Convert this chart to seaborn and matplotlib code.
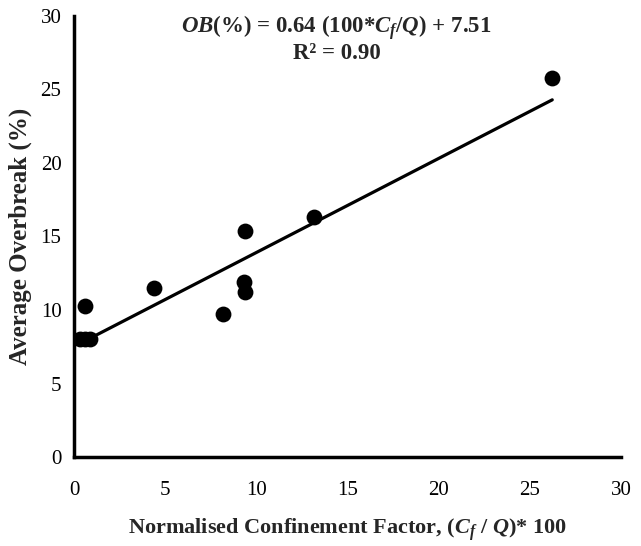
import matplotlib
matplotlib.use("Agg")
import matplotlib.pyplot as plt
import seaborn as sns
import numpy as np
import pandas as pd

# Normalised confinement factor (Cf/Q)*100 and average overbreak (%)
confinement = [0.34, 0.63, 0.90, 0.58, 4.38, 8.15, 9.30, 9.39, 9.39, 13.14, 26.23]
overbreak = [8.05, 8.05, 8.05, 10.25, 11.5, 9.72, 11.9, 11.2, 15.35, 16.32, 25.8]

# Linear trend coefficients
slope = 0.64
intercept = 7.51
r_squared = 0.90

x_ticks = [0, 5, 10, 15, 20, 25, 30]
y_ticks = [0, 5, 10, 15, 20, 25, 30]

sns.set_style("white")
plt.rcParams["font.family"] = ["Liberation Serif", "DejaVu Serif"]
plt.rcParams["mathtext.fontset"] = "custom"
plt.rcParams["mathtext.rm"] = "Liberation Serif:bold"
plt.rcParams["mathtext.it"] = "Liberation Serif:italic:bold"
plt.rcParams["mathtext.bf"] = "Liberation Serif:bold"

df = pd.DataFrame({"x": confinement, "y": overbreak})

fig = plt.figure(figsize=(6.41, 5.46), dpi=100)
ax = fig.add_axes([0.1154, 0.163, 0.8534, 0.8077])

sns.scatterplot(data=df, x="x", y="y", ax=ax, color="black", s=130,
                edgecolor="black", linewidth=0, zorder=3)

xs = np.array([min(confinement), max(confinement)])
ax.plot(xs, slope * xs + intercept, color="black", lw=2.3, zorder=2)

ax.set_xlim(0, 30)
ax.set_ylim(0, 30)
ax.set_xticks(x_ticks)
ax.set_yticks(y_ticks)
ax.tick_params(axis="both", direction="out", length=5, width=2.2,
               labelsize=15, colors="black", pad=4)
ax.tick_params(axis="x", pad=12)
for side in ["top", "right"]:
    ax.spines[side].set_visible(False)
for side in ["left", "bottom"]:
    ax.spines[side].set_linewidth(2.5)
    ax.spines[side].set_color("black")

ax.set_xlabel(r"Normalised Confinement Factor, ($C_f$ / $Q$)* 100",
              fontsize=16, fontweight="bold", labelpad=12)
ax.set_ylabel("Average Overbreak (%)", fontsize=18, fontweight="bold", labelpad=6)

ax.text(14.4, 29.2,
        r"$OB$(%) = " + f"{slope:.2f}" + r" (100*$C_f$/$Q$) + " + f"{intercept:.2f}",
        ha="center", va="center", fontsize=16.5, fontweight="bold")
ax.text(14.4, 27.45, f"R² = {r_squared:.2f}", ha="center", va="center",
        fontsize=16.5, fontweight="bold")

fig.savefig("out.png", dpi=100, facecolor="white")
